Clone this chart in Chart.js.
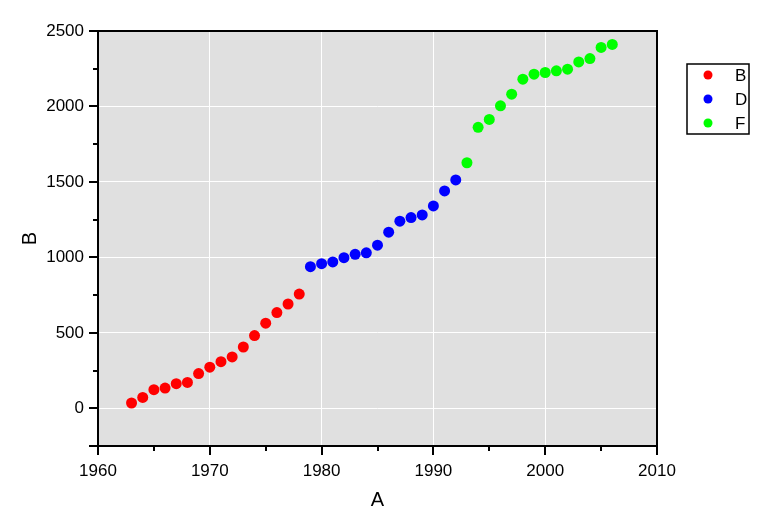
<!DOCTYPE html>
<html>
<head>
<meta charset="utf-8">
<script src="https://cdn.jsdelivr.net/npm/chart.js@4/dist/chart.umd.min.js"></script>
<style>
html,body{margin:0;padding:0;background:#fff;}
canvas{display:block;}
</style>
</head>
<body>
<canvas id="c" width="780" height="521"></canvas>
<script>
// ---- data ----
const yearsB = [1963,1964,1965,1966,1967,1968,1969,1970,1971,1972,1973,1974,1975,1976,1977,1978];
const valuesB = [35,72,123,134,163,171,230,272,309,340,406,482,564,634,691,757];
const yearsD = [1979,1980,1981,1982,1983,1984,1985,1986,1987,1988,1989,1990,1991,1992];
const valuesD = [938,958,970,998,1020,1030,1081,1167,1240,1264,1281,1341,1440,1513];
const yearsF = [1993,1994,1995,1996,1997,1998,1999,2000,2001,2002,2003,2004,2005,2006];
const valuesF = [1627,1862,1914,2004,2081,2181,2214,2225,2236,2247,2295,2317,2391,2411];
const seriesNames = ['B','D','F'];
const xTicks = [1960,1970,1980,1990,2000,2010];
const yTicks = [0,500,1000,1500,2000,2500];
const xMinorTicks = [1965,1975,1985,1995,2005];
const yMinorTicks = [250,750,1250,1750,2250];
const xTitle = 'A';
const yTitle = 'B';

const FONT = '"Liberation Sans", Arial, sans-serif';
const colors = ['#ff0000','#0000ff','#00ff00'];

function pts(xs, ys){ return xs.map((x,i)=>({x:x, y:ys[i]})); }

const decor = {
  id:'decor',
  beforeDraw(chart){
    const {ctx, chartArea:a} = chart;
    ctx.save();
    ctx.fillStyle = '#e0e0e0';
    ctx.fillRect(a.left, a.top, a.right-a.left, a.bottom-a.top);
    ctx.restore();
  },
  afterDraw(chart){
    const {ctx, chartArea:a, scales} = chart;
    const xs = scales.x, ys = scales.y;
    ctx.save();
    ctx.strokeStyle = '#000';
    ctx.lineWidth = 2;
    ctx.strokeRect(a.left, a.top, a.right-a.left, a.bottom-a.top);
    ctx.lineWidth = 2;
    ctx.beginPath();
    xTicks.forEach(v=>{ const p = Math.round(xs.getPixelForValue(v)); ctx.moveTo(p, a.bottom); ctx.lineTo(p, a.bottom+9); });
    xMinorTicks.forEach(v=>{ const p = Math.round(xs.getPixelForValue(v)); ctx.moveTo(p, a.bottom); ctx.lineTo(p, a.bottom+5); });
    yTicks.concat([-250]).forEach(v=>{ const p = Math.round(ys.getPixelForValue(v)); ctx.moveTo(a.left, p); ctx.lineTo(a.left-9, p); });
    yMinorTicks.forEach(v=>{ const p = Math.round(ys.getPixelForValue(v)); ctx.moveTo(a.left, p); ctx.lineTo(a.left-5, p); });
    ctx.stroke();

    // axis titles
    ctx.fillStyle = '#000';
    ctx.font = '20px ' + FONT;
    ctx.textAlign = 'center';
    ctx.textBaseline = 'middle';
    ctx.fillText(xTitle, (a.left+a.right)/2, 500);
    ctx.save();
    ctx.translate(30, (a.top+a.bottom)/2);
    ctx.rotate(-Math.PI/2);
    ctx.fillText(yTitle, 0, 0);
    ctx.restore();

    // legend
    const lx = 687, ly = 64, lw = 62, lh = 70;
    ctx.fillStyle = '#fff';
    ctx.fillRect(lx, ly, lw, lh);
    ctx.lineWidth = 1.5;
    ctx.strokeStyle = '#000';
    ctx.strokeRect(lx, ly, lw, lh);
    ctx.font = '17px ' + FONT;
    ctx.textAlign = 'left';
    ctx.textBaseline = 'middle';
    chart.data.datasets.forEach((ds,i)=>{
      const cy = 75 + i*24;
      ctx.fillStyle = ds.backgroundColor;
      ctx.beginPath();
      ctx.arc(708, cy, 4.5, 0, Math.PI*2);
      ctx.fill();
      ctx.fillStyle = '#000';
      ctx.fillText(ds.label, 735, cy+1);
    });
    ctx.restore();
  }
};

new Chart(document.getElementById('c'), {
  type:'scatter',
  data:{
    datasets:[
      {label:seriesNames[0], data:pts(yearsB, valuesB), backgroundColor:colors[0], borderColor:colors[0], pointRadius:5.5, borderWidth:0},
      {label:seriesNames[1], data:pts(yearsD, valuesD), backgroundColor:colors[1], borderColor:colors[1], pointRadius:5.5, borderWidth:0},
      {label:seriesNames[2], data:pts(yearsF, valuesF), backgroundColor:colors[2], borderColor:colors[2], pointRadius:5.5, borderWidth:0}
    ]
  },
  options:{
    responsive:false,
    animation:false,
    devicePixelRatio:1,
    layout:{padding:{left:0, right:123, top:31, bottom:0}},
    plugins:{legend:{display:false}, tooltip:{enabled:false}},
    scales:{
      x:{
        type:'linear', min:1960, max:2010,
        afterBuildTicks(s){ s.ticks = xTicks.map(v=>({value:v})); },
        afterFit(s){ s.height = 75; },
        grid:{color:'#ffffff', lineWidth:1, drawTicks:false},
        border:{display:false},
        ticks:{color:'#000', font:{family:FONT, size:17}, padding:15, maxRotation:0, autoSkip:false, callback:v=>String(v)}
      },
      y:{
        type:'linear', min:-250, max:2500,
        afterBuildTicks(s){ s.ticks = yTicks.map(v=>({value:v})); },
        afterFit(s){ s.width = 98; },
        grid:{color:'#ffffff', lineWidth:1, drawTicks:false},
        border:{display:false},
        ticks:{color:'#000', font:{family:FONT, size:17}, padding:14, autoSkip:false, callback:v=>String(v)}
      }
    }
  },
  plugins:[decor]
});
</script>
</body>
</html>
